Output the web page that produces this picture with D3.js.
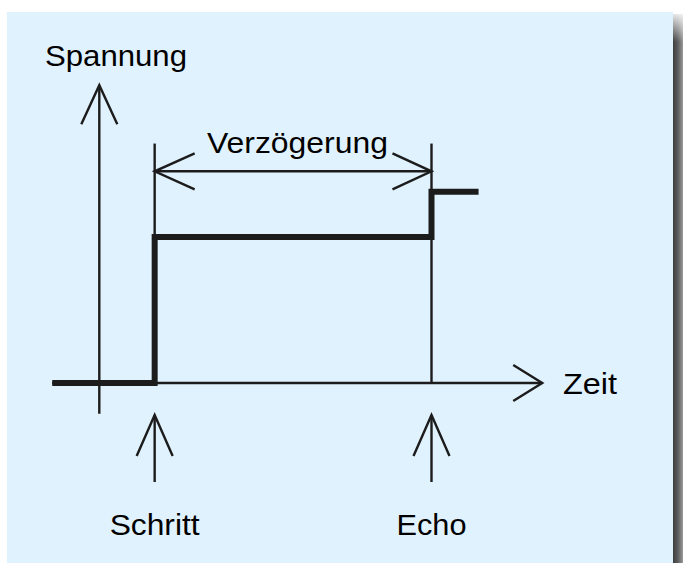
<!DOCTYPE html>
<html><head><meta charset="utf-8">
<script src="https://cdn.jsdelivr.net/npm/d3@7"></script>
<style>html,body{margin:0;padding:0;background:#fff;}svg{display:block;}</style>
</head><body>
<script>
// ---- data ----
const eventLabels = ["Schritt", "Echo"];
const eventTimes = [1, 6];
const signalTimes = [-0.85, 1, 1, 6, 6, 6.85];
const signalValues = [0, 0, 1, 1, 1.31, 1.31];
const axisLabels = { y: "Spannung", x: "Zeit" };
const delayLabel = "Verzögerung";
const xDomain = [0, 6];
const yDomain = [0, 1];
const xAxisEnd = 8.0;       // time where x-axis arrow tip sits
const xAxisStart = -0.85;
const yAxisTop = 2.04;      // voltage where y-axis arrow tip sits
const yAxisBottom = -0.21;
const delayLevel = 1.45;    // voltage level of dimension line
const markerTop = 1.64;     // top of thin event lines

// ---- layout ----
const W = 683, H = 563;
const svg = d3.select("body").append("svg").attr("width", W).attr("height", H);
const defs = svg.append("defs");
const g1 = defs.append("linearGradient").attr("id","shadowH").attr("x1","0").attr("x2","1").attr("y1","0").attr("y2","0");
g1.append("stop").attr("offset","0").attr("stop-color","#3e3e3e");
g1.append("stop").attr("offset","0.5").attr("stop-color","#5e5e5e");
g1.append("stop").attr("offset","1").attr("stop-color","#9a9a9a");
const g2 = defs.append("linearGradient").attr("id","shadowV").attr("x1","0").attr("x2","0").attr("y1","0").attr("y2","1");
g2.append("stop").attr("offset","0").attr("stop-color","#fff").attr("stop-opacity","1");
g2.append("stop").attr("offset","1").attr("stop-color","#fff").attr("stop-opacity","0");

// shadow
svg.append("rect").attr("x",673).attr("y",14).attr("width",10).attr("height",H-14).attr("fill","url(#shadowH)");
svg.append("rect").attr("x",673).attr("y",10).attr("width",10).attr("height",32).attr("fill","url(#shadowV)");
// panel
svg.append("rect").attr("x",7).attr("y",12).attr("width",666).attr("height",H-12).attr("fill","#e0f2fd");

const x = d3.scaleLinear().domain(xDomain).range([99.3, 431.5]);
const y = d3.scaleLinear().domain(yDomain).range([383, 237]);

const ink = "#1c1c1c";
const thin = 2.4;

function seg(x1, y1, x2, y2, w) {
  svg.append("line").attr("x1",x1).attr("y1",y1).attr("x2",x2).attr("y2",y2)
    .attr("stroke",ink).attr("stroke-width",w||thin).attr("stroke-linecap","butt");
}
// open chevron arrowhead: tip, direction (unit vector), length, half-spread
function chevron(tx, ty, dx, dy, len, half) {
  const px = -dy, py = dx;
  const p = d3.path();
  p.moveTo(tx - dx*len + px*half, ty - dy*len + py*half);
  p.lineTo(tx, ty);
  p.lineTo(tx - dx*len - px*half, ty - dy*len - py*half);
  svg.append("path").attr("d", p.toString()).attr("fill","none")
    .attr("stroke",ink).attr("stroke-width",thin).attr("stroke-linejoin","miter");
}

// y axis
seg(x(0), y(yAxisBottom), x(0), y(yAxisTop));
chevron(x(0), y(yAxisTop), 0, -1, 39, 18);
// x axis
seg(x(xAxisStart), y(0), x(xAxisEnd), y(0));
chevron(x(xAxisEnd), y(0), 1, 0, 29, 18);

// thin event lines
eventTimes.forEach(t => seg(x(t), y(0), x(t), y(markerTop)));

// dimension line
seg(x(eventTimes[0]), y(delayLevel), x(eventTimes[1]), y(delayLevel));
chevron(x(eventTimes[0]), y(delayLevel), -1, 0, 40, 18);
chevron(x(eventTimes[1]), y(delayLevel), 1, 0, 39, 18);

// signal
const line = d3.line().x(d => x(d[0])).y(d => y(d[1])).curve(d3.curveLinear);
svg.append("path").datum(signalTimes.map((t,i)=>[t, signalValues[i]]))
  .attr("d", line).attr("fill","none").attr("stroke",ink).attr("stroke-width",6)
  .attr("stroke-linejoin","miter").attr("stroke-linecap","butt");

// event arrows below axis
eventTimes.forEach(t => {
  seg(x(t), 415, x(t), 482);
  chevron(x(t), 415, 0, -1, 41, 18);
});

const font = "'Liberation Sans', Arial, Helvetica, sans-serif";
function label(txt, tx, ty, anchor, len) {
  const e = svg.append("text").attr("x",tx).attr("y",ty).attr("font-family",font)
    .attr("font-size",30).attr("fill","#000").attr("text-anchor",anchor||"start").text(txt);
  if (len) e.attr("textLength", len).attr("lengthAdjust","spacingAndGlyphs");
  return e;
}
label(axisLabels.y, 45, 66, "start", 142);
label(delayLabel, 207, 153, "start", 181);
label(axisLabels.x, 563, 394, "start", 54);
eventTimes.forEach((t,i) => label(eventLabels[i], x(t), 535, "middle", i===0 ? 90 : 70));
</script>
</body></html>
